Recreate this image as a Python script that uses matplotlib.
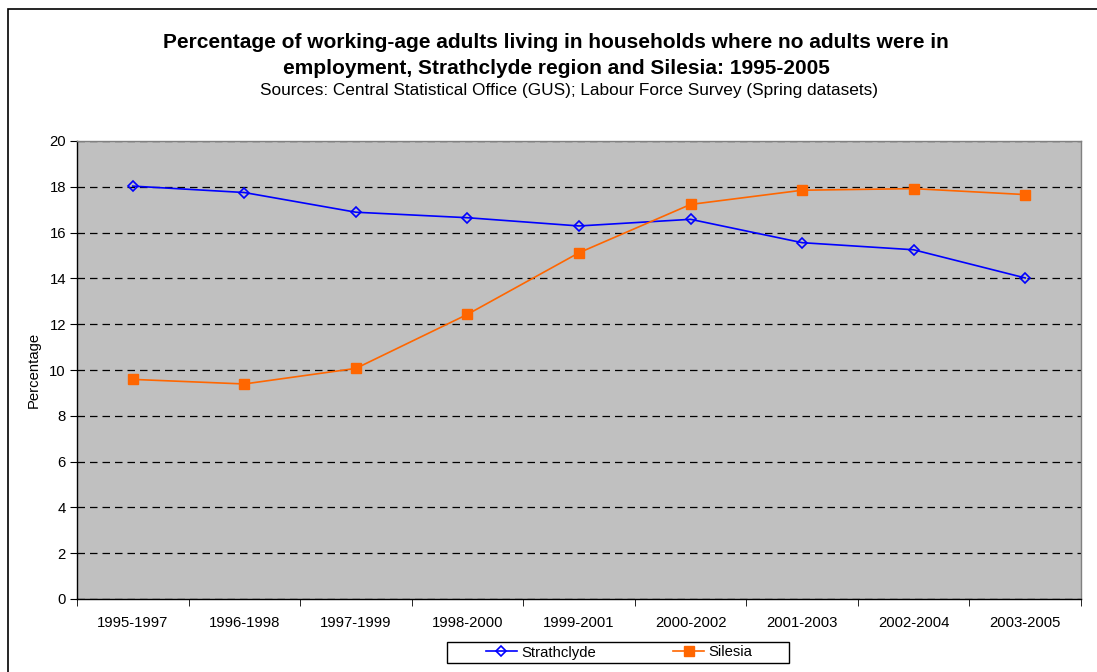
import matplotlib
matplotlib.use("Agg")
import matplotlib.pyplot as plt
import numpy as np
from matplotlib.patches import Rectangle

categories = ["1995-1997", "1996-1998", "1997-1999", "1998-2000", "1999-2001",
              "2000-2002", "2001-2003", "2002-2004", "2003-2005"]
strathclyde = [18.03, 17.75, 16.89, 16.65, 16.29, 16.58, 15.56, 15.25, 14.02]
silesia = [9.59, 9.39, 10.07, 12.43, 15.12, 17.23, 17.85, 17.92, 17.66]
yticks = [0, 2, 4, 6, 8, 10, 12, 14, 16, 18, 20]

plt.rcParams['font.family'] = ['Liberation Sans', 'DejaVu Sans']

W, H = 1097, 672
fig = plt.figure(figsize=(W/100, H/100), dpi=100)
ax = fig.add_axes([77/W, 73/H, (1081-77)/W, (599-141)/H])
ax.set_facecolor('#C0C0C0')

x = np.arange(len(categories))
ax.plot(x, strathclyde, color='#0000FF', lw=1.2, marker='D', ms=5,
        mfc='none', mec='#0000FF', mew=1.2, label='Strathclyde', zorder=3)
ax.plot(x, silesia, color='#FF6600', lw=1.2, marker='s', ms=7,
        mfc='#FF6600', mec='#FF6600', label='Silesia', zorder=3)

ax.set_xlim(-0.5, len(categories) - 0.5)
ax.set_ylim(0, 20)
ax.set_yticks(yticks)
ax.set_yticklabels([str(v) for v in yticks], fontsize=10.7)
ax.set_xticks(x)
ax.set_xticklabels(categories, fontsize=10.7)
ax.set_xticks(np.arange(-0.5, len(categories)), minor=True)
ax.tick_params(axis='x', which='major', length=0, pad=12)
ax.tick_params(axis='x', which='minor', length=5, direction='out', color='black')
ax.tick_params(axis='y', length=5, direction='out', color='black', pad=3)

ax.grid(axis='y', which='major', color='black', linestyle=(0, (6, 4)), lw=0.9)
ax.set_axisbelow(True)
for s in ['left', 'bottom']:
    ax.spines[s].set_color('black')
    ax.spines[s].set_linewidth(1)
for s in ['top', 'right']:
    ax.spines[s].set_color('#808080')
    ax.spines[s].set_linewidth(1)

ax.set_ylabel('Percentage', fontsize=10.7, labelpad=6)

cx = 556/W
fig.text(cx, 1 - 43/H, 'Percentage of working-age adults living in households where no adults were in',
         ha='center', va='center', fontsize=15, fontweight='bold')
fig.text(cx, 1 - 68/H, 'employment, Strathclyde region and Silesia: 1995-2005',
         ha='center', va='center', fontsize=15, fontweight='bold')
fig.text(569/W, 1 - 91/H, 'Sources: Central Statistical Office (GUS); Labour Force Survey (Spring datasets)',
         ha='center', va='center', fontsize=12.4)

fig.legend(loc='center', bbox_to_anchor=(619/W, 1 - 652.5/H), ncol=2,
           fontsize=10.7, frameon=False, columnspacing=5.2, handlelength=2.1,
           borderpad=0, handletextpad=0.27)
fig.patches.append(Rectangle((447/W, 1 - 663/H), (789-447)/W, 21/H, transform=fig.transFigure,
                             fill=False, edgecolor='black', lw=1))

fig.patches.append(Rectangle((8/W, -0.1), 1.2, 1 - 9/H + 0.1, transform=fig.transFigure,
                             fill=False, edgecolor='black', lw=1.2))

fig.savefig('out.png', dpi=100)
